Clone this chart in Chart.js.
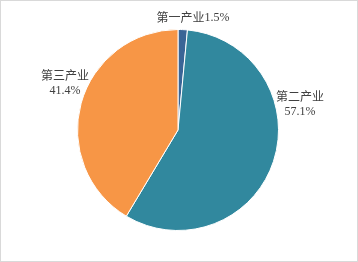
<!DOCTYPE html>
<html><head><meta charset="utf-8">
<script src="https://cdn.jsdelivr.net/npm/chart.js@4/dist/chart.umd.min.js"></script>
<style>
html,body{margin:0;padding:0;background:#fff;}
#wrap{width:358px;height:262px;box-sizing:border-box;border:1px solid #d9d9d9;position:relative;}
canvas{display:block;}
</style></head><body>
<div id="wrap"><canvas id="c" width="356" height="260"></canvas></div>
<script>
const categories = ['第一产业', '第二产业', '第三产业'];
const shares = [1.5, 57.1, 41.4];
const colors = ['#3A6596', '#31889E', '#F79646'];

// label placement: [dx, dy] from chart centre, and whether single line
const labelPlacement = [
  {dx: 15, dy: -113, inline: true},
  {dx: 122, dy: -34, inline: false},
  {dx: -113, dy: -55, inline: false}
];

const labelPlugin = {
  id: 'sliceLabels',
  afterDraw(chart) {
    const ctx = chart.ctx;
    const meta = chart.getDatasetMeta(0);
    const arc0 = meta.data[0];
    const cx = arc0.x, cy = arc0.y;
    ctx.save();
    ctx.fillStyle = '#404040';
    ctx.textBaseline = 'middle';
    const cnFont = '12px "Noto Sans CJK SC"';
    const numFont = '12px "Liberation Serif"';
    meta.data.forEach((arc, i) => {
      const p = labelPlacement[i];
      const x = cx + p.dx, y = cy + p.dy;
      const name = categories[i];
      const val = shares[i].toFixed(1) + '%';
      if (p.inline) {
        ctx.font = cnFont;
        const w1 = ctx.measureText(name).width;
        ctx.font = numFont;
        const w2 = ctx.measureText(val).width;
        const x0 = x - (w1 + w2) / 2;
        ctx.textAlign = 'left';
        ctx.font = cnFont;
        ctx.fillText(name, x0, y);
        ctx.font = numFont;
        ctx.fillText(val, x0 + w1, y + 1);
      } else {
        ctx.textAlign = 'center';
        ctx.font = cnFont;
        ctx.fillText(name, x, y);
        ctx.font = numFont;
        ctx.fillText(val, x, y + 16);
      }
    });
    ctx.restore();
  }
};

new Chart(document.getElementById('c'), {
  type: 'pie',
  data: {
    labels: categories,
    datasets: [{
      data: shares,
      backgroundColor: colors,
      borderColor: '#ffffff',
      borderWidth: 1
    }]
  },
  options: {
    responsive: false,
    animation: false,
    layout: {padding: {left: 76, right: 78, top: 28, bottom: 30}},
    plugins: {legend: {display: false}, tooltip: {enabled: false}}
  },
  plugins: [labelPlugin]
});
</script>
</body></html>
